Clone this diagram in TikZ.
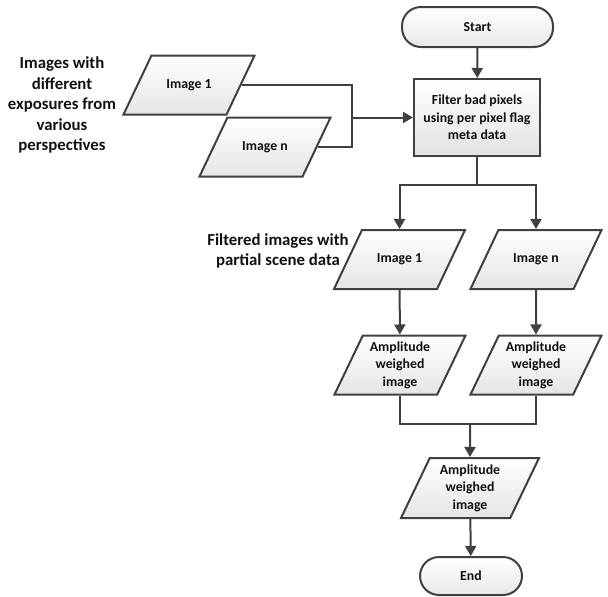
\documentclass[tikz,border=0pt]{standalone}
\usepackage{fontspec}
\setmainfont{Carlito}
\usetikzlibrary{positioning, arrows.meta, shapes.geometric}

\definecolor{lineclr}{HTML}{404040}
\definecolor{txtclr}{HTML}{111111}

\begin{document}
\begin{tikzpicture}[
  x=1pt, y=-1pt,
  line/.style = {draw=lineclr, line width=2pt},
  arr/.style  = {line, -{Triangle[length=10pt, width=11pt]}},
  boxfont/.style = {font=\bfseries\fontsize{13.8}{17.5}\selectfont, text=txtclr},
  term/.style = {line, boxfont, rectangle, rounded corners=19pt,
                 top color=white, bottom color=black!9,
                 minimum height=40pt, inner sep=2pt},
  proc/.style = {line, boxfont, rectangle, align=center,
                 top color=white, bottom color=black!11,
                 minimum width=126pt, minimum height=77pt, inner sep=2pt},
  data/.style = {line, boxfont, trapezium, trapezium left angle=64,
                 trapezium right angle=116, trapezium stretches body=true,
                 align=center, top color=white, bottom color=black!10,
                 minimum width=131pt, minimum height=59pt,
                 inner xsep=2pt, inner ysep=5.5pt},
  oneline/.style = {inner ysep=23pt},
  lbl/.style  = {align=center, text=txtclr,
                 font=\bfseries\fontsize{16.8}{20.5}\selectfont},
]
  \useasboundingbox (0,0) rectangle (608,597);

  % main column
  \node[term, minimum width=151pt] (start) at (477.5,27) {Start};
  \node[proc] (filter) at (477,117.5) {Filter bad pixels\\using per pixel flag\\meta data};

  % input images
  \node[data, oneline] (inimg1) at (189,85)  {Image 1};
  \node[data, oneline] (inimgn) at (265,147) {Image n};
  \node[lbl]  (inlbl)  at (62,105)  {Images with\\different\\exposures from\\various\\perspectives};

  % filtered images
  \node[data, oneline] (fltimg1) at (399.5,259.5) {Image 1};
  \node[data, oneline] (fltimgn) at (536,259.5)   {Image n};
  \node[lbl]  (fltlbl)  at (278,251)     {Filtered images with\\partial scene data};

  \node[data] (amp1) at (400,365) {Amplitude\\weighed\\image};
  \node[data] (ampn) at (536,365) {Amplitude\\weighed\\image};

  \node[data, minimum width=138pt, minimum height=60pt, inner ysep=6pt] (ampall) at (470,488) {Amplitude\\weighed\\image};
  \node[term, minimum width=102pt, minimum height=38pt] (end) at (471,576) {End};

  % joints
  \coordinate (joinin) at (352,117.5);
  \coordinate (split)  at (477,185);
  \coordinate (merge)  at (470,424);

  % connectors
  \draw[arr]  (start) -- (filter);
  \draw[line] (inimg1.east) -| (joinin);
  \draw[line] (inimgn.east) -| (joinin);
  \draw[arr]  (joinin) -- (filter.west);

  \draw[line] (filter.south) -- (split);
  \draw[arr]  (split) -| (fltimg1.north);
  \draw[arr]  (split) -| (fltimgn.north);

  \draw[arr] (fltimg1) -- (amp1);
  \draw[arr] (fltimgn) -- (ampn);

  \draw[line] (amp1.south) |- (merge);
  \draw[line] (ampn.south) |- (merge);
  \draw[arr]  (merge) -- (ampall.north);
  \draw[arr]  (ampall) -- (end);
\end{tikzpicture}
\end{document}
